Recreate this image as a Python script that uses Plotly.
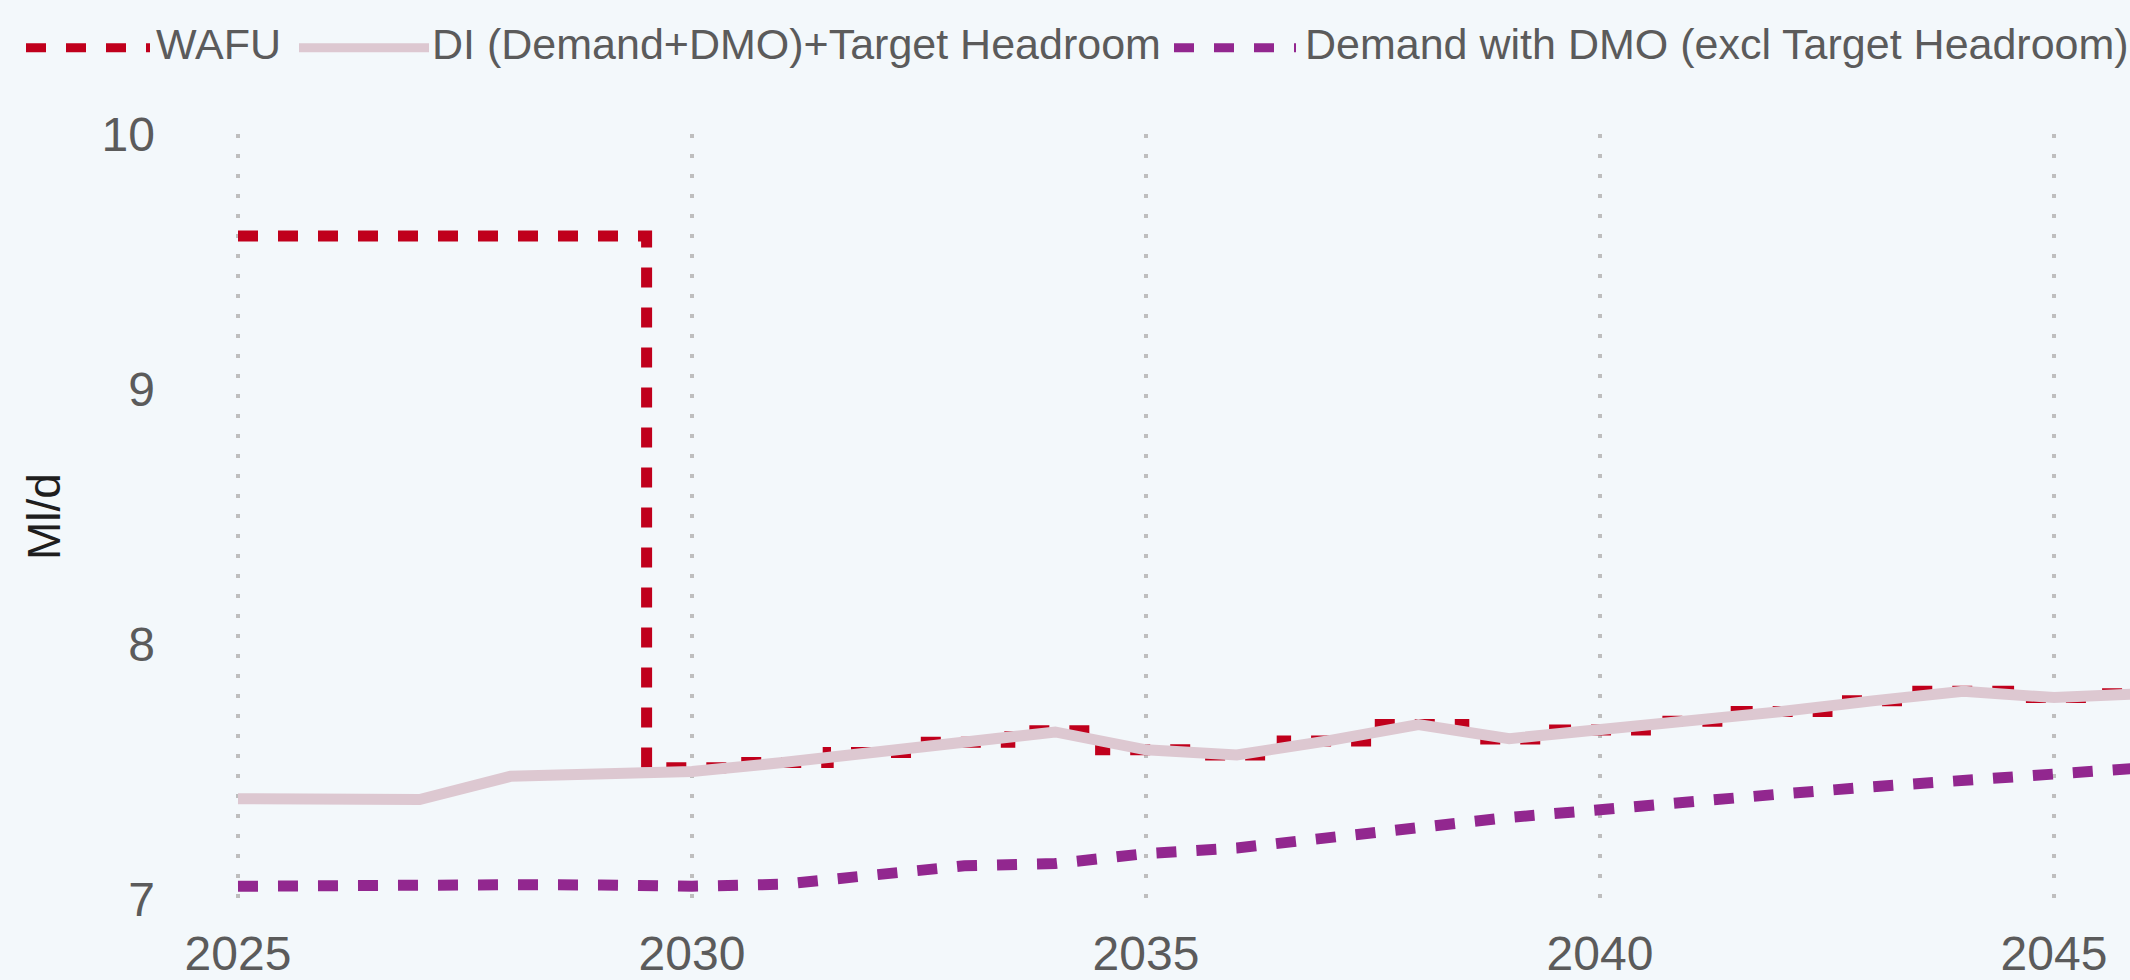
import plotly.graph_objects as go

# ---- data ----
years = list(range(2025, 2047))
wafu = [9.6, 9.6, 9.6, 9.6, 9.6,
        7.515, 7.535, 7.575, 7.615, 7.66, 7.585, 7.565, 7.62, 7.684, 7.627,
        7.663, 7.697, 7.735, 7.777, 7.815, 7.79, 7.805]
di_target = [7.393, 7.392, 7.39, 7.481, 7.492,
             7.50, 7.535, 7.575, 7.615, 7.655, 7.585, 7.565, 7.62, 7.684, 7.629,
             7.662, 7.697, 7.735, 7.777, 7.815, 7.79, 7.805]
demand_dmo = [7.05, 7.054, 7.056, 7.056, 7.055,
              7.05, 7.058, 7.095, 7.13, 7.139, 7.178, 7.20, 7.24, 7.289, 7.32,
              7.35, 7.385, 7.412, 7.44, 7.462, 7.49, 7.515]

series_names = ["WAFU", "DI (Demand+DMO)+Target Headroom",
                "Demand with DMO (excl Target Headroom)"]
x_ticks = [2025, 2030, 2035, 2040, 2045]
y_ticks = [7, 8, 9, 10]

# ---- style ----
RED = "#C0001C"
PINK = "#DDC8D1"
PURPLE = "#92278F"
BG = "#F3F8FB"
GREY_TXT = "#5B5B5B"
FONT = "Arial, Liberation Sans, sans-serif"

W, H = 2130, 980
ML, MR, MT, MB = 235, 0, 134, 66
PW, PH = W - ML - MR, H - MT - MB

fig = go.Figure()
fig.add_trace(go.Scatter(x=years, y=wafu, name=series_names[0], mode="lines",
                         line=dict(color=RED, width=11, dash="20px,20px", shape="hvh")))
fig.add_trace(go.Scatter(x=years, y=di_target, name=series_names[1], mode="lines",
                         line=dict(color=PINK, width=11)))
fig.add_trace(go.Scatter(x=years, y=demand_dmo, name=series_names[2], mode="lines",
                         line=dict(color=PURPLE, width=11, dash="20px,20px")))


def px_x(p):
    return (p - ML) / PW


def px_y(p):
    return (H - MB - p) / PH


# ---- custom legend (long symbols like the original) ----
legend_items = [
    (26, 150, 155, RED, "20px,20px", series_names[0]),
    (299, 429, 431, PINK, None, series_names[1]),
    (1174, 1296, 1304, PURPLE, "20px,20px", series_names[2]),
]
shapes = []
annotations = []
for x0, x1, xt, col, dash, name in legend_items:
    ln = dict(color=col, width=9)
    if dash:
        ln["dash"] = dash
    shapes.append(dict(type="line", xref="paper", yref="paper",
                       x0=px_x(x0), x1=px_x(x1), y0=px_y(46), y1=px_y(46), line=ln))
    annotations.append(dict(xref="paper", yref="paper", x=px_x(xt), y=px_y(42),
                            xanchor="left", yanchor="middle", showarrow=False,
                            text=name, font=dict(size=43, color=GREY_TXT, family=FONT),
                            borderpad=0))

fig.update_layout(
    width=W, height=H,
    margin=dict(l=ML, r=MR, t=MT, b=MB, pad=0),
    paper_bgcolor=BG, plot_bgcolor=BG,
    showlegend=False,
    font=dict(family=FONT, color=GREY_TXT),
    shapes=shapes, annotations=annotations,
    xaxis=dict(range=[2024.967, 2045.837], tickvals=x_ticks, showgrid=True,
               gridcolor="#BEBEBE", gridwidth=4, griddash="4px,16px",
               zeroline=False, showline=False, ticks="",
               tickfont=dict(size=48, color=GREY_TXT, family=FONT),
               ticklabelstandoff=22),
    yaxis=dict(range=[7, 10], tickvals=y_ticks, showgrid=False, zeroline=False,
               showline=False, ticks="",
               tickfont=dict(size=48, color=GREY_TXT, family=FONT),
               ticklabelstandoff=79,
               title=dict(text="Ml/d", font=dict(size=46, color="#1E1E1E", family=FONT),
                          standoff=26)),
)

fig.write_html("out.html",
               config={"displayModeBar": False},
               post_script="document.body.style.margin='0px';"
                           "document.body.style.overflow='hidden';"
                           "document.body.style.background='" + BG + "';")
